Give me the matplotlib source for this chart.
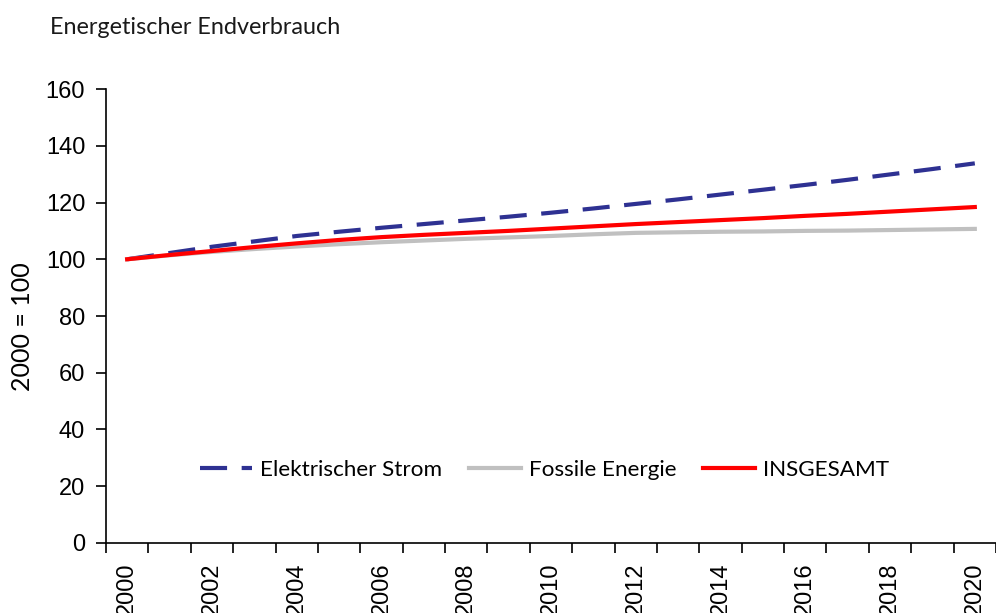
import numpy as np
import matplotlib
matplotlib.use("Agg")
import matplotlib.pyplot as plt

years = list(range(2000, 2021))
strom = [100, 102.2, 104.4, 106.3, 108.2, 109.7, 111.1, 112.4, 113.7, 115.0, 116.4,
         117.9, 119.5, 121.1, 122.8, 124.5, 126.2, 128.0, 129.9, 131.8, 133.8]
fossil = [100, 101.4, 102.6, 103.6, 104.5, 105.3, 106.0, 106.6, 107.2, 107.7, 108.2,
          108.8, 109.3, 109.5, 109.7, 109.8, 110.0, 110.1, 110.3, 110.5, 110.7]
gesamt = [100, 101.5, 102.9, 104.3, 105.6, 106.8, 107.8, 108.6, 109.3, 110.0, 110.8,
          111.6, 112.4, 113.1, 113.8, 114.5, 115.3, 116.0, 116.8, 117.6, 118.4]

label_font = "Lato"
tick_font = "Liberation Sans"

fig = plt.figure(figsize=(9.96, 6.13), dpi=100)
ax = fig.add_axes([0.1064, 0.1142, 0.8936, 0.7406])

x = np.arange(len(years))
ax.plot(x, strom, color="#2E3192", lw=3, linestyle=(0, (6.5, 3.5)), label="Elektrischer Strom")
ax.plot(x, fossil, color="#C0C0C0", lw=3, label="Fossile Energie")
ax.plot(x, gesamt, color="#FF0000", lw=3, label="INSGESAMT")

ax.set_xlim(-0.5, len(years) - 0.5)
ax.set_ylim(0, 160)
ax.set_yticks(range(0, 161, 20))
# ticks on category borders, year labels (every second) centred in the category
ax.set_xticks(np.arange(-0.5, len(years), 1), minor=False)
ax.set_xticklabels([])
ax.set_xticks(x[::2], minor=True)
ax.set_xticklabels([str(y) for y in years[::2]], minor=True, rotation=90, fontsize=17, family=tick_font)
ax.tick_params(axis="x", which="minor", length=0, pad=14)
ax.tick_params(axis="x", which="major", length=7, width=1.2, direction="out")
ax.tick_params(axis="y", length=7, width=1.2, direction="out", labelsize=17, pad=8)
for lab in ax.get_yticklabels():
    lab.set_family(tick_font)

for s in ["top", "right"]:
    ax.spines[s].set_visible(False)
for s in ["left", "bottom"]:
    ax.spines[s].set_linewidth(1.2)

ax.set_ylabel("2000 = 100", fontsize=18, family=label_font, va="center")
ax.yaxis.set_label_coords(-0.094, 0.476)
fig.text(0.05, 0.955, "Energetischer Endverbrauch", fontsize=16.8, family=label_font,
         color="#1a1a1a", va="center")

ax.legend(loc="center", bbox_to_anchor=(0.493, 0.16), ncol=3, frameon=False,
          prop={"family": label_font, "size": 16.2}, handlelength=2.3,
          handletextpad=0.35, columnspacing=1.2)

fig.savefig("out.png", dpi=100)
